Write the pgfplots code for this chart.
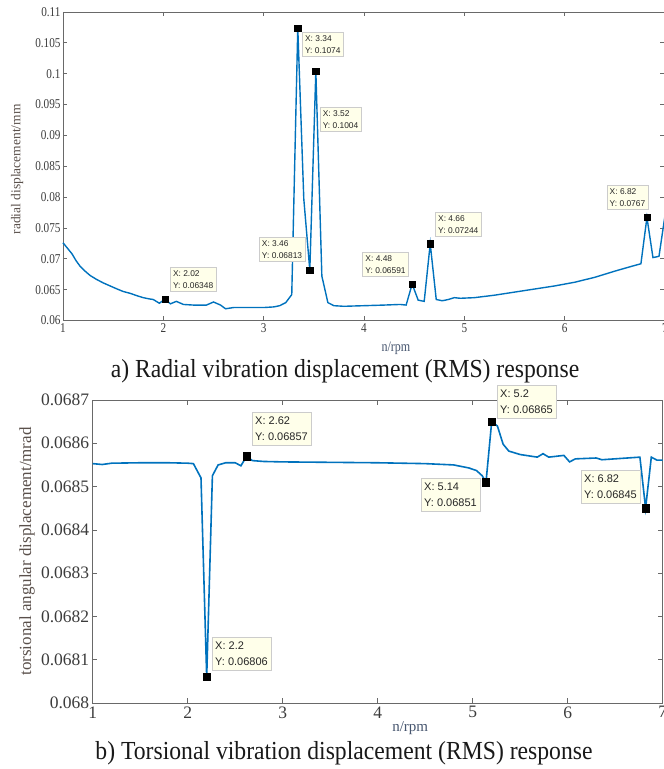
\documentclass[border=0pt]{standalone}
\usepackage{fontspec}
\setmainfont{Liberation Serif}
\newfontfamily\condserif[FakeStretch=0.83]{Liberation Serif}
\newfontfamily\capserif[FakeStretch=0.91]{Liberation Serif}
\newfontfamily\tipfont{Liberation Sans}
\usepackage{pgfplots}
\pgfplotsset{compat=1.18}
\definecolor{mblue}{RGB}{0,114,189}
\definecolor{tipbg}{RGB}{255,255,234}
\definecolor{axgray}{RGB}{105,105,105}
\definecolor{lblgray}{RGB}{60,60,60}
\definecolor{ylab}{RGB}{90,80,75}
\definecolor{xlab}{RGB}{70,85,110}

\pgfplotstableread{
x y
1.00 0.0726
1.05 0.0716
1.09 0.0708
1.13 0.0697
1.17 0.0688
1.22 0.0680
1.27 0.0673
1.33 0.0667
1.40 0.0661
1.47 0.0656
1.54 0.0651
1.60 0.0647
1.67 0.0644
1.74 0.0640
1.80 0.0637
1.86 0.0635
1.90 0.0634
1.96 0.0628
2.02 0.06348
2.07 0.0627
2.13 0.0631
2.20 0.0626
2.30 0.0625
2.43 0.0625
2.50 0.0630
2.57 0.0625
2.62 0.0619
2.70 0.0621
2.80 0.0621
2.90 0.0621
3.00 0.0621
3.10 0.0622
3.16 0.0624
3.22 0.0629
3.28 0.0642
3.34 0.1074
3.40 0.0797
3.46 0.06813
3.52 0.1004
3.58 0.0672
3.64 0.0629
3.70 0.0624
3.80 0.0623
4.00 0.0624
4.20 0.0625
4.36 0.0626
4.42 0.0625
4.48 0.06591
4.54 0.0633
4.60 0.0631
4.66 0.07244
4.72 0.0634
4.78 0.0632
4.84 0.0634
4.90 0.0637
4.96 0.0636
5.10 0.0637
5.30 0.0641
5.50 0.0646
5.70 0.0651
5.90 0.0656
6.10 0.0662
6.30 0.0670
6.50 0.0680
6.65 0.0687
6.76 0.0692
6.82 0.0767
6.88 0.0702
6.94 0.0704
7.00 0.0770
}\radial

\pgfplotstableread{
x y
1.00 0.068553
1.10 0.068551
1.20 0.068554
1.50 0.068555
1.80 0.068555
2.00 0.068554
2.06 0.068553
2.14 0.068520
2.20 0.06806
2.26 0.068525
2.32 0.068550
2.40 0.068555
2.50 0.068555
2.56 0.068548
2.62 0.06857
2.68 0.068560
2.80 0.068558
3.00 0.068557
3.50 0.068556
4.00 0.068555
4.50 0.068553
4.80 0.068550
4.96 0.068543
5.04 0.068537
5.10 0.068525
5.14 0.06851
5.20 0.06865
5.26 0.068640
5.32 0.068598
5.38 0.068582
5.50 0.068574
5.68 0.068568
5.74 0.068576
5.80 0.068568
5.96 0.068572
6.02 0.068557
6.08 0.068564
6.30 0.068566
6.36 0.068562
6.76 0.068568
6.82 0.06845
6.88 0.068568
6.94 0.068561
7.00 0.068561
}\torsion

\begin{document}
\begin{tikzpicture}
\clip (0pt,0pt) rectangle (664pt,769pt);
\tikzset{
  tipA/.style={draw=black!20, fill=tipbg, text=black!85, font=\tipfont\fontsize{8.4}{12.2}\selectfont, align=left, inner xsep=2.8pt, inner ysep=3pt},
  tipB/.style={draw=black!20, fill=tipbg, text=black!85, font=\tipfont\fontsize{11}{16.5}\selectfont, align=left, inner xsep=3pt, inner ysep=4.3pt}
}
% ---------- top axis ----------
\begin{axis}[
  at={(63pt,448.5pt)}, anchor=south west,
  scale only axis, width=602pt, height=308.5pt,
  xmin=1, xmax=7, ymin=0.06, ymax=0.11,
  clip=false, scaled y ticks=false, scaled x ticks=false,
  xtick={1,2,3,4,5,6,7}, xticklabels={1,2,3,4,5,6,7},
  ytick={0.06,0.065,0.07,0.075,0.08,0.085,0.09,0.095,0.1,0.105,0.11},
  yticklabels={0.06,0.065,0.07,0.075,0.08,0.085,0.09,0.095,0.1,0.105,0.11},
  tick align=inside, major tick length=4.5pt,
  axis line style={draw=axgray, line width=0.8pt},
  every tick/.style={draw=axgray, line width=0.7pt},
  tick label style={text=lblgray, font=\condserif\fontsize{13.5}{15}\selectfont},
  yticklabel style={xshift=1pt},
  xlabel={n/rpm}, ylabel={radial displacement/mm},
  xlabel style={at={(axis description cs:0.553,-0.091)}, anchor=center, text=xlab, font=\condserif\fontsize{14.5}{16}\selectfont},
  ylabel style={at={(axis description cs:-0.076,0.49)}, anchor=center, rotate=0, text=ylab, font=\fontsize{13.5}{15}\selectfont},
]
\addplot[mblue, line width=1.4pt] table[x=x,y=y] {\radial};
\addplot[only marks, mark=square*, mark size=3.2pt, mark options={fill=black, draw=black}] coordinates {
 (2.02,0.06348) (3.34,0.1074) (3.52,0.1004) (3.46,0.06813) (4.48,0.06591) (4.66,0.07244) (6.82,0.0767)};
\node[tipA, anchor=north west, xshift=4.7pt, yshift=32pt] at (axis cs:2.02,0.06348) {X: 2.02\\Y: 0.06348};
\node[tipA, anchor=north west, xshift=4.3pt, yshift=-4pt] at (axis cs:3.34,0.1074) {X: 3.34\\Y: 0.1074};
\node[tipA, anchor=north west, xshift=4pt, yshift=-36pt] at (axis cs:3.52,0.1004) {X: 3.52\\Y: 0.1004};
\node[tipA, anchor=north east, xshift=-4.7pt, yshift=33pt] at (axis cs:3.46,0.06813) {X: 3.46\\Y: 0.06813};
\node[tipA, anchor=north east, xshift=-3.5pt, yshift=32pt] at (axis cs:4.48,0.06591) {X: 4.48\\Y: 0.06591};
\node[tipA, anchor=north west, xshift=5pt, yshift=31.7pt] at (axis cs:4.66,0.07244) {X: 4.66\\Y: 0.07244};
\node[tipA, anchor=north east, xshift=1.3pt, yshift=32.5pt] at (axis cs:6.82,0.0767) {X: 6.82\\Y: 0.0767};
\end{axis}
% ---------- bottom axis ----------
\begin{axis}[
  at={(92.7pt,66pt)}, anchor=south west,
  scale only axis, width=570pt, height=303pt,
  xmin=1, xmax=7, ymin=0.068, ymax=0.0687,
  clip=false, scaled y ticks=false, scaled x ticks=false,
  xtick={1,2,3,4,5,6,7}, xticklabels={1,2,3,4,5,6,7},
  ytick={0.068,0.0681,0.0682,0.0683,0.0684,0.0685,0.0686,0.0687},
  yticklabels={0.068,0.0681,0.0682,0.0683,0.0684,0.0685,0.0686,0.0687},
  tick align=inside, major tick length=4.5pt,
  axis line style={draw=axgray, line width=0.8pt},
  every tick/.style={draw=axgray, line width=0.7pt},
  tick label style={text=lblgray, font=\fontsize{17.5}{19}\selectfont},
  xlabel={n/rpm}, ylabel={torsional angular displacement/mrad},
  xlabel style={at={(axis description cs:0.557,-0.083)}, anchor=center, text=xlab, font=\fontsize{15}{17}\selectfont},
  ylabel style={at={(axis description cs:-0.115,0.5)}, anchor=center, rotate=0, text=ylab, font=\fontsize{17}{19}\selectfont},
]
\addplot[mblue, line width=1.6pt] table[x=x,y=y] {\torsion};
\addplot[only marks, mark=square*, mark size=3.6pt, mark options={fill=black, draw=black}] coordinates {
 (2.62,0.06857) (2.2,0.06806) (5.2,0.06865) (5.14,0.06851) (6.82,0.06845)};
\node[tipB, anchor=north west, xshift=5.4pt, yshift=44pt] at (axis cs:2.62,0.06857) {X: 2.62\\Y: 0.06857};
\node[tipB, anchor=north west, xshift=5.3pt, yshift=40pt] at (axis cs:2.2,0.06806) {X: 2.2\\Y: 0.06806};
\node[tipB, anchor=north west, xshift=5.3pt, yshift=36.6pt] at (axis cs:5.2,0.06865) {X: 5.2\\Y: 0.06865};
\node[tipB, anchor=north east, xshift=-6pt, yshift=4.2pt] at (axis cs:5.14,0.06851) {X: 5.14\\Y: 0.06851};
\node[tipB, anchor=north east, xshift=-5.6pt, yshift=38pt] at (axis cs:6.82,0.06845) {X: 6.82\\Y: 0.06845};
\end{axis}
% ---------- captions ----------
\node[font=\capserif\fontsize{26}{30}\selectfont, text=black!90] at (345pt,398pt) {a) Radial vibration displacement (RMS) response};
\node[font=\capserif\fontsize{26}{30}\selectfont, text=black!90] at (344pt,16pt) {b) Torsional vibration displacement (RMS) response};
\end{tikzpicture}
\end{document}
